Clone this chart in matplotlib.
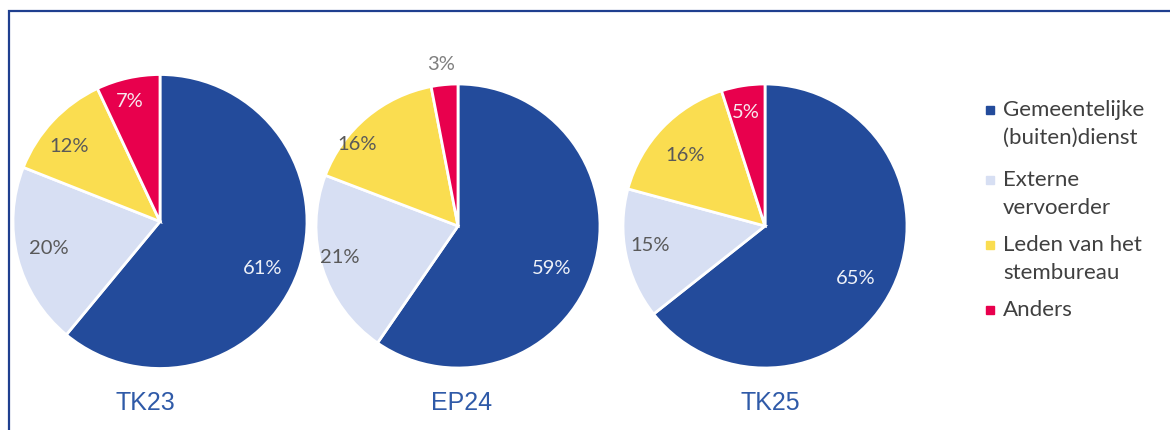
import numpy as np
import matplotlib
matplotlib.use("Agg")
import matplotlib.pyplot as plt
from matplotlib.patches import Rectangle
from matplotlib.lines import Line2D

# Data
elections = ["TK23", "EP24", "TK25"]
categories = ["Gemeentelijke\n(buiten)dienst", "Externe\nvervoerder",
              "Leden van het\nstembureau", "Anders"]
tk23 = [61, 20, 12, 7]
ep24 = [59, 21, 16, 3]
tk25 = [65, 15, 16, 5]
shares = [tk23, ep24, tk25]

colors = ["#234B9B", "#D7DFF3", "#FADD50", "#E8004D"]
label_colors = ["#EEF1F8", "#595959", "#595959", "#F8E8EE"]

W, H = 1170, 430
fig = plt.figure(figsize=(W / 100, H / 100), dpi=100)
fig.patch.set_facecolor("white")

# pie centres and radii in pixels
geom = [(160, 221.5, 147), (458, 226, 142), (765, 226, 142)]
# label placement: radial distance (fraction of radius) and angular nudge (degrees)
label_r = [
    [0.77, 0.78, 0.80, 0.84],
    [0.72, 0.86, 0.91, 1.14],
    [0.74, 0.82, 0.75, 0.81],
]
label_dang = [
    [-5, -1, 3.5, 1.5],
    [-7, -2.5, 11, 0.5],
    [-4, -2, 2.5, 0.5],
]
title_x = [145, 462, 770]

for vals, (cx, cy, r), lr, la, tx, name in zip(shares, geom, label_r, label_dang,
                                                title_x, elections):
    ax = fig.add_axes([(cx - r) / W, (H - cy - r) / H, 2 * r / W, 2 * r / H])
    wedges, _ = ax.pie(vals, colors=colors, startangle=90, counterclock=False,
                       radius=1, wedgeprops=dict(edgecolor="white", linewidth=2))
    ax.set_xlim(-1, 1)
    ax.set_ylim(-1, 1)
    ax.set_aspect("equal")
    ax.axis("off")
    for i, (w, v) in enumerate(zip(wedges, vals)):
        mid = np.deg2rad((w.theta1 + w.theta2) / 2 + la[i])
        d = lr[i]
        col = label_colors[i] if d < 1 else "#7F7F7F"
        ax.text(d * np.cos(mid), d * np.sin(mid), f"{v}%", ha="center", va="center",
                fontsize=14.5, color=col, family=["Lato", "DejaVu Sans"], clip_on=False)
    fig.text(tx / W, (H - 403) / H, name, ha="center", va="center", fontsize=18,
             color="#2F5AA8", family=["Liberation Sans", "DejaVu Sans"])

# Legend
leg_rows = [110, 180, 245, 310]
legend_texts = []
for lab, col, y in zip(categories, colors, leg_rows):
    fig.add_artist(Line2D([990 / W], [(H - y) / H], marker="s", markersize=6,
                          color=col, linestyle="none"))
    # first line of each entry sits on the marker row
    legend_texts.append(fig.text(1003 / W, (H - y + 10) / H, lab, ha="left", va="top",
                                 fontsize=16, color="#404040",
                                 family=["Lato", "DejaVu Sans"], linespacing=1.47))

# Frame around the chart
fig.add_artist(Rectangle((9 / W, -0.2), 1.2, (H - 11) / H + 0.2, transform=fig.transFigure,
                         fill=False, edgecolor="#1F3F8F", linewidth=1.6))

fig.savefig("out.png", dpi=100)
